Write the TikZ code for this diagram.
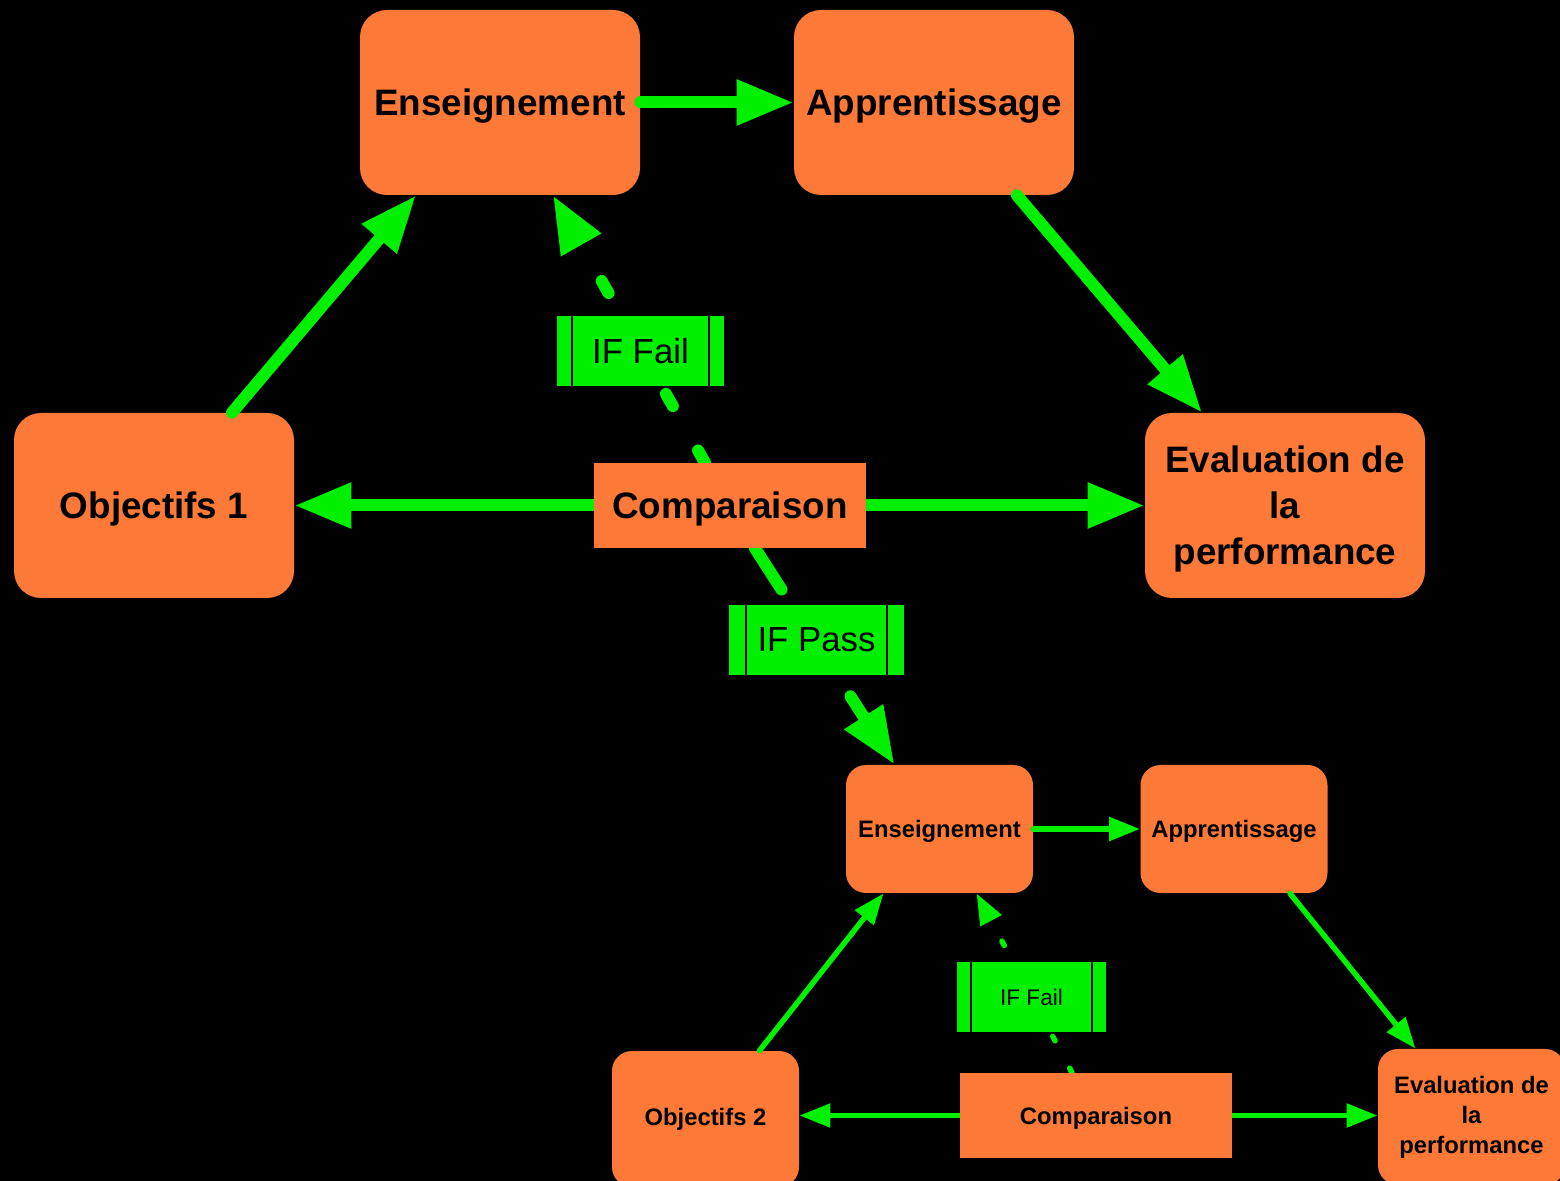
\documentclass[tikz,border=0pt]{standalone}
\usepackage{fontspec}
\setmainfont{Liberation Sans}
\usetikzlibrary{arrows.meta,calc}
\definecolor{boxor}{RGB}{253,121,55}
\definecolor{arrgr}{RGB}{0,240,0}
\pgfdeclarelayer{fg}
\pgfsetlayers{main,fg}
\tikzset{
  bigbox/.style={fill=boxor, rounded corners=13.5pt, minimum width=140pt, minimum height=92.5pt,
    font=\fontsize{18.4}{23}\selectfont\bfseries, align=center, inner sep=0pt, text depth=0pt},
  smallbox/.style={fill=boxor, rounded corners=10pt, minimum width=93.5pt, minimum height=64pt,
    font=\fontsize{11.9}{15}\selectfont\bfseries, align=center, inner sep=0pt, text depth=0pt},
  bigcomp/.style={fill=boxor, minimum width=136pt, minimum height=42.5pt,
    font=\fontsize{18.4}{23}\selectfont\bfseries, inner sep=0pt, text depth=0pt},
  smallcomp/.style={fill=boxor, minimum width=136pt, minimum height=42.5pt,
    font=\fontsize{11.9}{15}\selectfont\bfseries, inner sep=0pt, text depth=0pt},
  biglab/.style={fill=arrgr, minimum height=35pt, inner sep=0pt,
    font=\fontsize{17.4}{20}\selectfont},
  smalllab/.style={fill=arrgr, minimum height=35pt, inner sep=0pt,
    font=\fontsize{11.3}{14}\selectfont},
  barline/.style={draw=black, line width=1pt},
  bigarr/.style={draw=arrgr, line width=6pt, line cap=round, -{Triangle[length=28.5pt,width=21.5pt]}},
  bigline/.style={draw=arrgr, line width=6pt, line cap=round},
  smallarr/.style={draw=arrgr, line width=2.75pt, line cap=round, -{Triangle[length=15.5pt,width=11.5pt]}},
  bigdash/.style={bigarr, dash pattern=on 7pt off 25.5pt},
  smalldash/.style={smallarr, dash pattern=on 2.5pt off 15.5pt},
}
\begin{document}
\begin{tikzpicture}[x=0.5pt,y=-0.5pt]
\useasboundingbox (0,0) rectangle (1560,1181);
\fill[black] (0,0) rectangle (1560,1181);

% rounded boxes
\node[bigbox] (ens1) at (500,102.5) {Enseignement};
\node[bigbox] (app1) at (934,102.5) {Apprentissage};
\node[bigbox] (obj1) at (154,505.5) {Objectifs 1};
\node[bigbox] (eval1) at (1285,505.5) {Evaluation de\\la\\performance};
\node[smallbox] (ens2) at (939.5,829) {Enseignement};
\node[smallbox] (app2) at (1234,829) {Apprentissage};
\node[smallbox, minimum height=68pt, text depth=] (obj2) at (705.5,1119) {Objectifs 2};
\node[smallbox, minimum height=68pt, text depth=] (eval2) at (1471.5,1117) {Evaluation de\\la\\performance};

% comparison boxes (on top of their outgoing lines)
\begin{pgfonlayer}{fg}
\node[bigcomp] (comp1) at (730,505.5) {Comparaison};
\node[smallcomp] (comp2) at (1096,1115.5) {Comparaison};
\end{pgfonlayer}

% upper cycle
\draw[bigarr] (ens1.east) -- (app1.west);
\draw[bigarr] ($(app1.south)+(83,0)$) -- ($(eval1.north)+(-83,0)$);
\draw[bigarr] ($(obj1.north)+(78,0)$) -- ($(ens1.south)+(-84,0)$);
\draw[bigarr] (comp1.west) -- (obj1.east);
\draw[bigarr] (comp1.east) -- (eval1.west);
\draw[bigdash] ($(comp1.north)+(-25,0)$) -- ($(ens1.south)+(53,0)$);

% IF Pass connector, interrupted around its label
\coordinate (pa) at ($(comp1.south)+(25,0)$);
\coordinate (pb) at ($(ens2.north)+(-45,0)$);
\coordinate (p1) at ($(pa)!0.19!(pb)$);
\coordinate (p2) at ($(pa)!0.684!(pb)$);
\draw[bigline] (pa) -- (p1);
\draw[bigarr] (p2) -- (pb);

% lower cycle
\draw[smallarr] (ens2.east) -- (app2.west);
\draw[smallarr] ($(app2.south)+(56,0)$) -- ($(eval2.north)+(-56,0)$);
\draw[smallarr] ($(obj2.north)+(54,0)$) -- ($(ens2.south)+(-56,0)$);
\draw[smallarr] (comp2.west) -- (comp2.west -| obj2.east);
\draw[smallarr] (comp2.east) -- (comp2.east -| eval2.west);
\draw[smalldash] ($(comp2.north)+(-24,0)$) -- ($(ens2.south)+(37,0)$);

% labels
\begin{pgfonlayer}{fg}
\node[biglab, minimum width=83.5pt] (fail1) at (640.5,351) {IF Fail};
\draw[barline] ($(fail1.north west)+(15,0)$) -- ($(fail1.south west)+(15,0)$);
\draw[barline] ($(fail1.north east)+(-15,0)$) -- ($(fail1.south east)+(-15,0)$);
\node[biglab, minimum width=87.5pt] (pass1) at (816.5,640) {IF Pass};
\draw[barline] ($(pass1.north west)+(17,0)$) -- ($(pass1.south west)+(17,0)$);
\draw[barline] ($(pass1.north east)+(-17,0)$) -- ($(pass1.south east)+(-17,0)$);
\node[smalllab, minimum width=74.5pt] (fail2) at (1031.5,997) {IF Fail};
\draw[barline] ($(fail2.north west)+(14,0)$) -- ($(fail2.south west)+(14,0)$);
\draw[barline] ($(fail2.north east)+(-14,0)$) -- ($(fail2.south east)+(-14,0)$);
\end{pgfonlayer}
\end{tikzpicture}
\end{document}
